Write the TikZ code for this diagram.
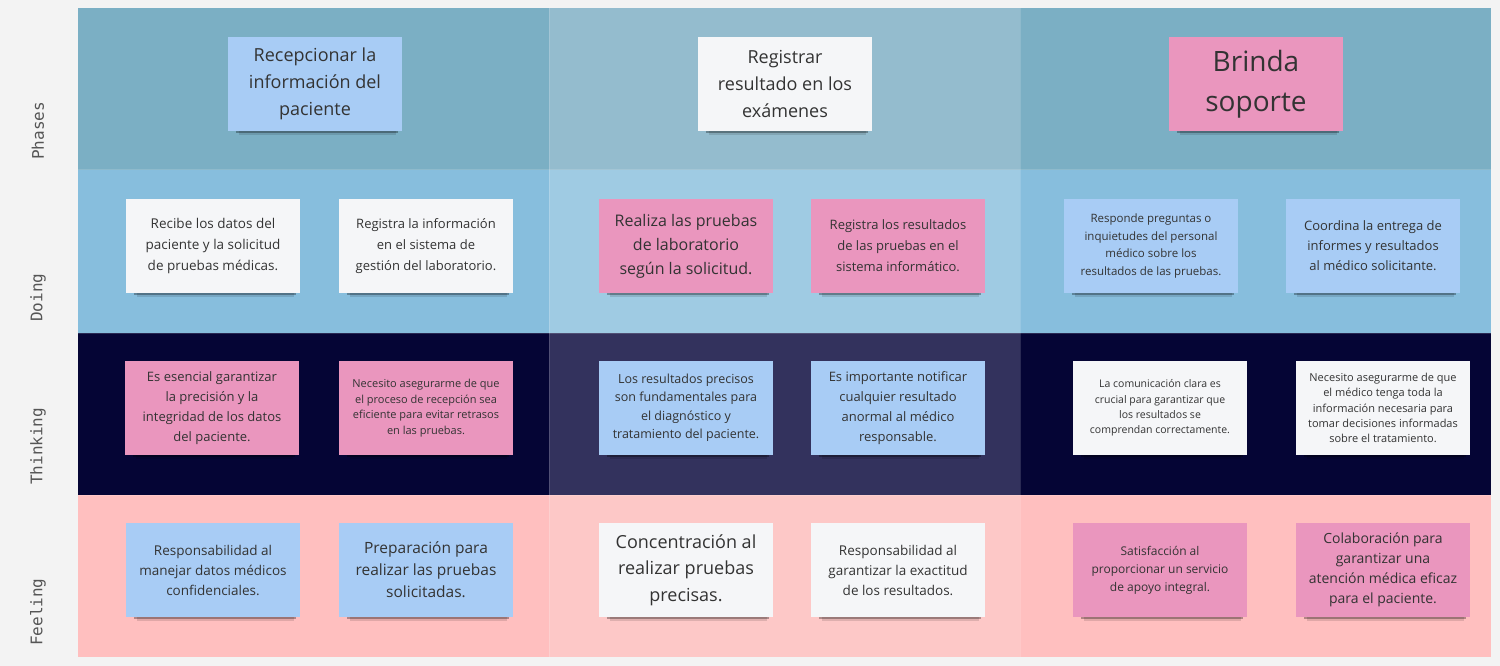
\documentclass[tikz,border=0pt]{standalone}
\usepackage{fontspec}
\setmainfont{Open Sans}
\setmonofont{DejaVu Sans Mono}
\usetikzlibrary{shadows}
\definecolor{canvas}{HTML}{F3F3F3}
\definecolor{phaseside}{HTML}{7BAFC4}
\definecolor{phasemid}{HTML}{94BCCE}
\definecolor{doingside}{HTML}{87BEDD}
\definecolor{doingmid}{HTML}{9FCBE3}
\definecolor{thinkside}{HTML}{050535}
\definecolor{thinkmid}{HTML}{33325D}
\definecolor{feelside}{HTML}{FFBFBF}
\definecolor{feelmid}{HTML}{FDC8C7}
\definecolor{noteblue}{HTML}{A8CCF5}
\definecolor{notewhite}{HTML}{F5F6F8}
\definecolor{notepink}{HTML}{EA96BE}
\definecolor{inktext}{HTML}{333333}
\definecolor{labeltext}{HTML}{555555}

\begin{document}
\begin{tikzpicture}
    [x=1pt, y=-1pt,
    note/.style={minimum width=174pt, minimum height=94pt, inner sep=0pt, align=center, text=inktext,
        general shadow={fill=black, opacity=0.12, shadow yshift=-10pt, shadow xshift=3pt, shadow scale=0.90},
        general shadow={fill=black, opacity=0.30, shadow yshift=-6pt, shadow xshift=2pt, shadow scale=0.93}},
    bluenote/.style={note, fill=noteblue},
    whitenote/.style={note, fill=notewhite},
    pinknote/.style={note, fill=notepink},
    rowlabel/.style={rotate=90, anchor=west, inner sep=0pt, text=labeltext, font=\ttfamily\fontsize{16}{18}\selectfont},
    cellline/.style={draw=white, draw opacity=0.15, line width=1pt}]
    \useasboundingbox[fill=canvas] (0,0) rectangle (1500,666);
    %\draw[step=100pt,gray,very thin] (0,0) grid (1500,666);
    % lanes
    \fill[phaseside] (78,8) rectangle (549,170);
    \fill[phasemid]  (549,8) rectangle (1020,170);
    \fill[phaseside] (1020,8) rectangle (1491,170);
    \fill[doingside] (78,170) rectangle (549,333);
    \fill[doingmid]  (549,170) rectangle (1020,333);
    \fill[doingside] (1020,170) rectangle (1491,333);
    \fill[thinkside] (78,333) rectangle (549,495);
    \fill[thinkmid]  (549,333) rectangle (1020,495);
    \fill[thinkside] (1020,333) rectangle (1491,495);
    \fill[feelside]  (78,495) rectangle (549,657);
    \fill[feelmid]   (549,495) rectangle (1020,657);
    \fill[feelside]  (1020,495) rectangle (1491,657);
    \draw[cellline] (549,8) -- (549,657);
    \draw[cellline] (1020,8) -- (1020,657);
    \draw[cellline] (78,170) -- (1491,170);
    \draw[cellline] (78,333) -- (1491,333);
    \draw[cellline] (78,495) -- (1491,495);
    % row labels
    \node[rowlabel] (phases)   at (38,160) {Phases};
    \node[rowlabel] (doing)    at (38,322) {Doing};
    \node[rowlabel] (thinking) at (38,485) {Thinking};
    \node[rowlabel] (feeling)  at (38,646) {Feeling};
    % phases
    \node[bluenote, font=\fontsize{18}{27}\selectfont]  (recepcion) at (315,84)  {Recepcionar la\\información del\\paciente};
    \node[whitenote, font=\fontsize{18}{27}\selectfont] (registro)  at (785,84)  {Registrar\\resultado en los\\exámenes};
    \node[pinknote, font=\fontsize{28}{40}\selectfont]  (soporte)   at (1256,84) {Brinda\\soporte};
    % doing
    \node[whitenote, font=\fontsize{13.5}{21}\selectfont] (recibe)    at (213,246)  {Recibe los datos del\\paciente y la solicitud\\de pruebas médicas.};
    \node[whitenote, font=\fontsize{13}{21}\selectfont]   (registra)  at (426,246)  {Registra la información\\en el sistema de\\gestión del laboratorio.};
    \node[pinknote, font=\fontsize{16}{24}\selectfont]    (realiza)   at (686,246)  {Realiza las pruebas\\de laboratorio\\según la solicitud.};
    \node[pinknote, font=\fontsize{13}{21}\selectfont]    (registrares) at (898,246) {Registra los resultados\\de las pruebas en el\\sistema informático.};
    \node[bluenote, font=\fontsize{11.5}{17.5}\selectfont] (responde) at (1151,246) {Responde preguntas o\\inquietudes del personal\\médico sobre los\\resultados de las pruebas.};
    \node[bluenote, font=\fontsize{13}{20}\selectfont]    (coordina)  at (1373,246) {Coordina la entrega de\\informes y resultados\\al médico solicitante.};
    % thinking
    \node[pinknote, font=\fontsize{13}{20}\selectfont]    (esencial)  at (212,408)  {Es esencial garantizar\\la precisión y la\\integridad de los datos\\del paciente.};
    \node[pinknote, font=\fontsize{11}{15.5}\selectfont]  (necesitorec) at (426,408) {Necesito asegurarme de que\\el proceso de recepción sea\\eficiente para evitar retrasos\\en las pruebas.};
    \node[bluenote, font=\fontsize{12.5}{18.5}\selectfont] (precisos) at (686,408)  {Los resultados precisos\\son fundamentales para\\el diagnóstico y\\tratamiento del paciente.};
    \node[bluenote, font=\fontsize{13}{20}\selectfont]    (notificar) at (898,408)  {Es importante notificar\\cualquier resultado\\anormal al médico\\responsable.};
    \node[whitenote, font=\fontsize{10.5}{15.3}\selectfont] (comunicacion) at (1160,408) {La comunicación clara es\\crucial para garantizar que\\los resultados se\\comprendan correctamente.};
    \node[whitenote, font=\fontsize{11}{15.2}\selectfont] (necesitomed) at (1383,408) {Necesito asegurarme de que\\el médico tenga toda la\\información necesaria para\\tomar decisiones informadas\\sobre el tratamiento.};
    % feeling
    \node[bluenote, font=\fontsize{13.5}{20}\selectfont]  (manejar)   at (213,570)  {Responsabilidad al\\manejar datos médicos\\confidenciales.};
    \node[bluenote, font=\fontsize{15.5}{22}\selectfont]  (preparacion) at (426,570) {Preparación para\\realizar las pruebas\\solicitadas.};
    \node[whitenote, font=\fontsize{18}{26.5}\selectfont] (concentracion) at (686,570) {Concentración al\\realizar pruebas\\precisas.};
    \node[whitenote, font=\fontsize{13.5}{20}\selectfont] (exactitud) at (898,570)  {Responsabilidad al\\garantizar la exactitud\\de los resultados.};
    \node[pinknote, font=\fontsize{12}{18}\selectfont]    (satisfaccion) at (1160,570) {Satisfacción al\\proporcionar un servicio\\de apoyo integral.};
    \node[pinknote, font=\fontsize{14}{20}\selectfont]    (colaboracion) at (1383,570) {Colaboración para\\garantizar una\\atención médica eficaz\\para el paciente.};
\end{tikzpicture}
\end{document}
